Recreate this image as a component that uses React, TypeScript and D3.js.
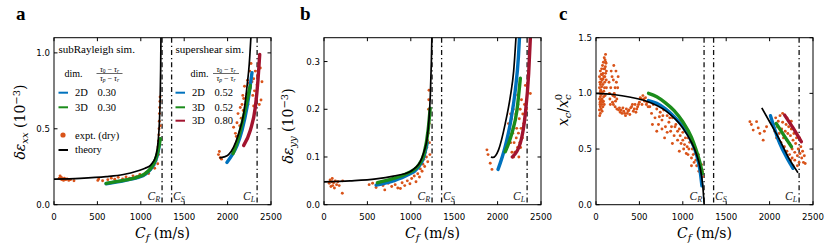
import React from 'react';
import * as d3 from 'd3';

type P = [number, number];

// axis ticks
const xTicks = [0, 500, 1000, 1500, 2000, 2500];
const yTicksA = [0, 0.5, 1.0];
const yTicksB = [0, 0.1, 0.2, 0.3];
const yTicksC = [0, 0.5, 1.0, 1.5];

// wave speeds (m/s)
const CR = 1245;
const CS = 1355;
const CL = 2340;

// ---- panel a: delta eps_xx ----
const theoryA: P[][] = [
  [[0, 0.169], [300, 0.174], [600, 0.185], [800, 0.199], [960, 0.222], [1050, 0.24], [1115, 0.262], [1170, 0.315], [1200, 0.42], [1215, 0.55], [1223, 0.69], [1229, 0.9], [1233, 1.15]],
  [[1907, 0.308], [1960, 0.315], [2011, 0.33], [2069, 0.38], [2127, 0.468], [2185, 0.6], [2223, 0.775], [2250, 0.93], [2273, 1.15]],
];
const blueA: P[][] = [
  [[600, 0.138], [700, 0.148], [800, 0.158], [900, 0.17], [960, 0.178], [1050, 0.2], [1115, 0.235], [1170, 0.29], [1200, 0.35], [1215, 0.4]],
  [[1992, 0.278], [2050, 0.326], [2108, 0.39], [2166, 0.49], [2223, 0.64], [2255, 0.76], [2281, 0.87]],
];
const greenA: P[][] = [
  [[600, 0.14], [700, 0.15], [800, 0.16], [900, 0.172], [960, 0.182], [1050, 0.205], [1115, 0.24], [1170, 0.3], [1200, 0.36], [1225, 0.435]],
  [[2062, 0.337], [2127, 0.446], [2192, 0.6], [2230, 0.7], [2262, 0.785]],
];
const redA: P[][] = [
  [[2185, 0.39], [2262, 0.49], [2319, 0.64], [2350, 0.82], [2362, 0.92], [2370, 0.99]],
];
const exptA: P[] = [
  [60, 0.175], [70, 0.19], [75, 0.17], [85, 0.18], [90, 0.165], [100, 0.17], [110, 0.16], [120, 0.175], [135, 0.165], [150, 0.17], [170, 0.16], [190, 0.165], [230, 0.158],
  [505, 0.16], [515, 0.17], [560, 0.158], [620, 0.165], [660, 0.175], [700, 0.168], [740, 0.18], [790, 0.17], [830, 0.182], [870, 0.175], [910, 0.19], [950, 0.185], [990, 0.2], [1030, 0.19], [1060, 0.21], [1090, 0.205], [1110, 0.23], [1130, 0.25], [1150, 0.26], [1160, 0.24], [1175, 0.29], [1185, 0.31], [1190, 0.35], [1198, 0.38], [1203, 0.42], [1208, 0.46], [1210, 0.5], [1213, 0.55], [1215, 0.6], [1218, 0.64], [1220, 0.68], [1222, 0.71], [1212, 0.4], [1195, 0.27], [1225, 0.52], [1205, 0.33],
  [1895, 0.33], [1905, 0.35], [1915, 0.31], [1930, 0.3], [2069, 0.51], [2090, 0.47], [2108, 0.54], [2120, 0.6], [2146, 0.64], [2156, 0.57], [2166, 0.66], [2175, 0.72], [2185, 0.7], [2195, 0.78], [2204, 0.64], [2215, 0.68], [2223, 0.73], [2235, 0.66], [2245, 0.8], [2262, 0.77], [2270, 0.93], [2281, 0.81], [2290, 0.72], [2300, 0.83], [2310, 0.75], [2319, 0.88], [2330, 0.7], [2339, 0.79], [2346, 0.85], [2358, 0.92], [2365, 0.66], [2377, 0.9], [2385, 0.69], [2396, 0.81], [2140, 0.52], [2100, 0.45], [2180, 0.62], [2230, 0.82], [2255, 0.88], [2300, 0.65],
];

// ---- panel b: delta eps_yy ----
const theoryB: P[][] = [
  [[0, 0.048], [300, 0.05], [600, 0.054], [800, 0.06], [990, 0.069], [1050, 0.077], [1108, 0.09], [1150, 0.11], [1185, 0.136], [1210, 0.18], [1225, 0.23], [1237, 0.3], [1245, 0.37]],
  [[1923, 0.1], [1946, 0.099], [2011, 0.115], [2088, 0.17], [2146, 0.226], [2185, 0.28], [2215, 0.36]],
];
const blueB: P[][] = [
  [[600, 0.041], [800, 0.05], [961, 0.062], [1080, 0.077], [1150, 0.1], [1190, 0.13]],
  [[2005, 0.074], [2088, 0.122], [2146, 0.17], [2204, 0.24], [2240, 0.31], [2255, 0.36]],
];
const greenB: P[][] = [
  [[615, 0.046], [800, 0.055], [961, 0.066], [1077, 0.08], [1154, 0.108], [1200, 0.157], [1223, 0.202]],
  [[2088, 0.111], [2165, 0.15], [2223, 0.198], [2262, 0.265]],
];
const redB: P[][] = [
  [[2170, 0.1], [2262, 0.129], [2319, 0.19], [2358, 0.275], [2380, 0.36]],
];
const exptB: P[] = [
  [60, 0.045], [70, 0.052], [80, 0.038], [90, 0.048], [95, 0.055], [100, 0.04], [110, 0.046], [120, 0.035], [130, 0.05], [145, 0.042], [160, 0.048], [175, 0.04], [211, 0.024], [215, 0.05],
  [520, 0.042], [560, 0.045], [600, 0.036], [640, 0.044], [680, 0.04], [700, 0.031], [740, 0.045], [780, 0.038], [820, 0.042], [850, 0.035], [880, 0.034], [900, 0.046], [930, 0.04], [960, 0.05], [990, 0.044], [1010, 0.055], [1040, 0.06], [1060, 0.048], [1080, 0.065], [1100, 0.058], [1110, 0.075], [1130, 0.07], [1140, 0.085], [1150, 0.095], [1160, 0.08], [1170, 0.11], [1180, 0.1], [1185, 0.12], [1190, 0.135], [1195, 0.09], [1200, 0.15], [1205, 0.2], [1207, 0.22], [1210, 0.24], [1212, 0.17], [1215, 0.13], [1220, 0.105],
  [1877, 0.115], [1915, 0.087], [1935, 0.074], [1890, 0.105],
  [2100, 0.12], [2120, 0.14], [2140, 0.16], [2150, 0.13], [2160, 0.18], [2165, 0.11], [2175, 0.15], [2180, 0.2], [2190, 0.13], [2195, 0.17], [2200, 0.11], [2210, 0.19], [2215, 0.14], [2220, 0.16], [2230, 0.12], [2235, 0.21], [2240, 0.15], [2250, 0.18], [2255, 0.13], [2260, 0.2], [2270, 0.16], [2275, 0.22], [2285, 0.14], [2290, 0.19], [2300, 0.17], [2310, 0.21], [2320, 0.25], [2330, 0.2], [2346, 0.254], [2377, 0.233], [2150, 0.19], [2185, 0.1], [2245, 0.1], [2205, 0.23], [2265, 0.12], [2125, 0.17],
];

// ---- panel c: x_c / x_c^0 ----
const theoryC: P[][] = [
  [[0, 1.0], [200, 0.99], [400, 0.965], [600, 0.925], [800, 0.845], [1000, 0.69], [1100, 0.56], [1150, 0.47], [1200, 0.33], [1230, 0.17], [1248, -0.02]],
  [[1910, 0.87], [2000, 0.745], [2117, 0.58], [2220, 0.42], [2327, 0.287]],
];
const blueC: P[][] = [
  [[605, 0.935], [700, 0.91], [800, 0.86], [900, 0.79], [1000, 0.7], [1100, 0.57], [1150, 0.47], [1200, 0.3], [1220, 0.17]],
  [[2010, 0.8], [2117, 0.55], [2200, 0.42], [2270, 0.327]],
];
const greenC: P[][] = [
  [[605, 1.0], [700, 0.97], [800, 0.915], [900, 0.845], [1000, 0.745], [1100, 0.605], [1150, 0.5], [1200, 0.37], [1225, 0.28]],
  [[2076, 0.73], [2150, 0.64], [2252, 0.52]],
];
const redC: P[][] = [
  [[2173, 0.805], [2270, 0.69], [2366, 0.566]],
];
const exptC: P[] = [
  [40, 0.85], [40, 0.95], [40, 1.05], [40, 1.15], [45, 0.9], [45, 1.0], [45, 1.1], [50, 0.82], [50, 0.88], [50, 0.97], [50, 1.08], [50, 1.2], [55, 0.93], [55, 1.03], [55, 1.13], [60, 0.86], [60, 0.99], [60, 1.17], [65, 0.9], [65, 1.06], [65, 1.22], [70, 0.84], [70, 0.95], [70, 1.12], [75, 1.0], [75, 1.25], [80, 0.88], [80, 1.08], [80, 1.18], [85, 0.93], [85, 1.28], [90, 1.02], [90, 1.15], [95, 0.9], [95, 1.32], [100, 1.1], [100, 1.22], [105, 0.98], [105, 1.3], [110, 1.35], [110, 1.18], [115, 1.27], [120, 1.2], [120, 1.05],
  [42, 0.8], [48, 0.92], [52, 1.02], [58, 1.1], [62, 0.94], [68, 1.01], [72, 1.17], [78, 0.92], [82, 1.13], [88, 0.97], [92, 1.22], [98, 1.05], [102, 1.15], [108, 1.24], [112, 1.28], [118, 1.12],
  [150, 1.1], [155, 1.0], [160, 0.95], [170, 1.05], [175, 1.2], [185, 1.15], [190, 0.92], [200, 1.12], [205, 1.25], [210, 1.0], [215, 0.97], [220, 1.05], [230, 1.2], [235, 1.1], [240, 0.95], [250, 1.05], [255, 1.15], [165, 0.9], [195, 0.98], [225, 0.93],
  [200, 0.9], [220, 0.88], [240, 0.86], [260, 0.85], [280, 0.83], [300, 0.82], [320, 0.84], [340, 0.8], [360, 0.82], [380, 0.85], [400, 0.87], [420, 0.9], [440, 0.86], [460, 0.83], [480, 0.88], [500, 0.92], [520, 0.95], [540, 0.98], [560, 0.93], [580, 0.9], [600, 0.88], [310, 0.87], [350, 0.86], [390, 0.81], [450, 0.9], [530, 0.9],
  [270, 0.87], [290, 0.85], [330, 0.82], [370, 0.84], [410, 0.88], [430, 0.84], [470, 0.86], [490, 0.9], [510, 0.96], [550, 0.95], [570, 0.96], [590, 0.92],
  [620, 0.88], [640, 0.82], [660, 0.9], [680, 0.78], [700, 0.86], [720, 0.72], [740, 0.83], [760, 0.76], [780, 0.85], [800, 0.7], [820, 0.8], [840, 0.74], [860, 0.66], [880, 0.78], [900, 0.62], [920, 0.72], [940, 0.58], [960, 0.68], [980, 0.55], [1000, 0.65], [1010, 0.5], [1030, 0.6], [1050, 0.52], [1060, 0.45], [1080, 0.56], [1100, 0.42], [1110, 0.5], [1130, 0.38], [1140, 0.46], [1160, 0.35], [1170, 0.42], [1185, 0.3], [1190, 0.38], [1200, 0.33], [1210, 0.27], [1215, 0.36], [1225, 0.3], [1230, 0.25],
  [700, 0.66], [760, 0.68], [820, 0.65], [880, 0.55], [940, 0.66], [1000, 0.58], [1060, 0.6], [1120, 0.53], [1180, 0.45], [790, 0.6], [650, 0.72], [870, 0.7], [960, 0.48], [1040, 0.46], [1100, 0.35],
  [730, 0.79], [770, 0.8], [850, 0.78], [910, 0.7], [970, 0.62], [1020, 0.54], [1070, 0.5], [1120, 0.45], [1150, 0.4], [1195, 0.34],
  [1773, 0.746], [1850, 0.746], [1811, 0.67], [1869, 0.69], [1926, 0.58], [1888, 0.64], [1965, 0.7], [1790, 0.72], [1940, 0.66],
  [2050, 0.72], [2060, 0.66], [2070, 0.78], [2080, 0.6], [2090, 0.7], [2100, 0.75], [2110, 0.64], [2120, 0.8], [2130, 0.56], [2140, 0.68], [2150, 0.74], [2160, 0.6], [2170, 0.52], [2180, 0.66], [2190, 0.72], [2200, 0.48], [2200, 0.58], [2210, 0.64], [2220, 0.7], [2230, 0.45], [2230, 0.55], [2240, 0.62], [2250, 0.68], [2260, 0.42], [2260, 0.5], [2270, 0.58], [2280, 0.64], [2290, 0.4], [2290, 0.47], [2300, 0.55], [2310, 0.6], [2320, 0.44], [2330, 0.5], [2340, 0.38], [2350, 0.46], [2360, 0.52], [2370, 0.42], [2380, 0.48], [2390, 0.38], [2400, 0.44], [2410, 0.37], [2250, 0.75], [2200, 0.78], [2150, 0.82], [2320, 0.35], [2270, 0.35], [2345, 0.6], [2240, 0.4],
];

const BLUE = '#0072BD';
const GREEN = '#1b8c1b';
const RED = '#A2142F';
const ORANGE = '#D95319';

const TOP = 37.7;
const BOTTOM = 204.7;
const W = 217;
const SERIF = "'Liberation Serif', 'Times New Roman', Times, serif";
const MATH = "'DejaVu Serif', 'Liberation Serif', serif";
const SANS = "'DejaVu Sans', Verdana, sans-serif";

interface PanelProps {
  id: string;
  x0: number;
  yMax: number;
  yTicks: number[];
  theory: P[][];
  blue: P[][];
  green: P[][];
  red: P[][];
  expt: P[];
}

const Panel = ({ id, x0, yMax, yTicks, theory, blue, green, red, expt }: PanelProps) => {
  const x = d3.scaleLinear().domain([0, 2500]).range([x0, x0 + W]);
  const y = d3.scaleLinear().domain([0, yMax]).range([BOTTOM, TOP]);
  const line = d3.line<P>().x(d => x(d[0])).y(d => y(d[1])).curve(d3.curveMonotoneX);
  const fmt = d3.format('.1f');

  const vline = (c: number) => (
    <line x1={x(c)} x2={x(c)} y1={TOP} y2={BOTTOM} stroke="#111" strokeWidth={1.3} strokeDasharray="5,3,1.3,3" />
  );

  const speedLabel = (c: number, sub: string, dx: number, anchor: string) => (
    <text x={x(c) + dx} y={200} textAnchor={anchor} fontFamily={SERIF} fontSize={11.5} fontStyle="italic" fill="#222">
      C<tspan fontSize={8} dy={2.2}>{sub}</tspan>
    </text>
  );

  return (
    <g>
      <defs>
        <clipPath id={`clip-${id}`}>
          <rect x={x0} y={TOP} width={W} height={BOTTOM - TOP} />
        </clipPath>
      </defs>
      {vline(CR)}
      {vline(CS)}
      {vline(CL)}
      {speedLabel(CR, 'R', -2, 'end')}
      {speedLabel(CS, 'S', 1.5, 'start')}
      {speedLabel(CL, 'L', -2, 'end')}
      <g clipPath={`url(#clip-${id})`}>
        {expt.map((d, i) => (
          <circle key={i} cx={x(d[0])} cy={y(d[1])} r={1.45} fill={ORANGE} />
        ))}
        {blue.map((s, i) => <path key={'b' + i} d={line(s) || ''} fill="none" stroke={BLUE} strokeWidth={3.4} strokeLinecap="round" />)}
        {green.map((s, i) => <path key={'g' + i} d={line(s) || ''} fill="none" stroke={GREEN} strokeWidth={3.4} strokeLinecap="round" />)}
        {red.map((s, i) => <path key={'r' + i} d={line(s) || ''} fill="none" stroke={RED} strokeWidth={3.4} strokeLinecap="round" />)}
        {theory.map((s, i) => <path key={'t' + i} d={line(s) || ''} fill="none" stroke="#000" strokeWidth={1.7} />)}
      </g>
      <rect x={x0} y={TOP} width={W} height={BOTTOM - TOP} fill="none" stroke="#000" strokeWidth={1} />
      {xTicks.map(t => (
        <g key={'x' + t}>
          <line x1={x(t)} x2={x(t)} y1={BOTTOM} y2={BOTTOM - 3.5} stroke="#000" />
          <line x1={x(t)} x2={x(t)} y1={TOP} y2={TOP + 3.5} stroke="#000" />
          <text x={x(t)} y={220} textAnchor="middle" fontFamily={SANS} fontSize={8.6} fill="#000">{t}</text>
        </g>
      ))}
      {yTicks.map(t => (
        <g key={'y' + t}>
          <line x1={x0} x2={x0 + 3.5} y1={y(t)} y2={y(t)} stroke="#000" />
          <line x1={x0 + W} x2={x0 + W - 3.5} y1={y(t)} y2={y(t)} stroke="#000" />
          <text x={x0 - 4} y={y(t) + 3.1} textAnchor="end" fontFamily={SANS} fontSize={8.6} fill="#000">{fmt(t)}</text>
        </g>
      ))}
      <text x={x0 + W / 2} y={238} textAnchor="middle" fontFamily={MATH} fontSize={14} fill="#000">
        <tspan fontStyle="italic">C</tspan>
        <tspan fontStyle="italic" fontSize={10} dy={3}>f</tspan>
        <tspan dy={-3}> (m/s)</tspan>
      </text>
    </g>
  );
};

const Frac = ({ cx, y }: { cx: number; y: number }) => (
  <g fontFamily={SERIF} fontSize={8} fontStyle="italic" fill="#000">
    <text x={cx} y={y - 2.5} textAnchor="middle">
      τ<tspan fontSize={5.5} dy={1.5} fontStyle="normal">0</tspan>
      <tspan dy={-1.5} fontStyle="normal"> − </tspan>τ<tspan fontSize={5.5} dy={1.5}>r</tspan>
    </text>
    <line x1={cx - 13} x2={cx + 13} y1={y - 0.5} y2={y - 0.5} stroke="#000" strokeWidth={0.6} />
    <text x={cx} y={y + 6.5} textAnchor="middle">
      τ<tspan fontSize={5.5} dy={1.5}>p</tspan>
      <tspan dy={-1.5} fontStyle="normal"> − </tspan>τ<tspan fontSize={5.5} dy={1.5}>r</tspan>
    </text>
  </g>
);

const LegendRow = ({ x, y, color, dim, val }: { x: number; y: number; color: string; dim: string; val: string }) => (
  <g>
    <line x1={x} x2={x + 9.5} y1={y} y2={y} stroke={color} strokeWidth={2} />
    <text x={x + 16.5} y={y + 3.3} fontFamily={SERIF} fontSize={10.5} fill="#000">{dim}</text>
    <text x={x + 39} y={y + 3.3} fontFamily={SERIF} fontSize={10.5} fill="#000">{val}</text>
  </g>
);

const App = () => {
  return (
    <svg width={830} height={249} style={{ position: 'absolute', left: 0, top: 0, background: '#fff' }}>
      <Panel id="a" x0={54} yMax={1.1} yTicks={yTicksA} theory={theoryA} blue={blueA} green={greenA} red={redA} expt={exptA} />
      <Panel id="b" x0={324} yMax={0.35} yTicks={yTicksB} theory={theoryB} blue={blueB} green={greenB} red={redB} expt={exptB} />
      <Panel id="c" x0={596} yMax={1.5} yTicks={yTicksC} theory={theoryC} blue={blueC} green={greenC} red={redC} expt={exptC} />

      {/* panel letters */}
      <text x={16} y={20} fontFamily={SERIF} fontWeight="bold" fontSize={19}>a</text>
      <text x={300} y={20} fontFamily={SERIF} fontWeight="bold" fontSize={19}>b</text>
      <text x={559} y={20} fontFamily={SERIF} fontWeight="bold" fontSize={19}>c</text>

      {/* y labels */}
      <text transform="translate(25,122) rotate(-90)" textAnchor="middle" fontFamily={MATH} fontSize={14}>
        <tspan fontStyle="italic">δε</tspan>
        <tspan fontStyle="italic" fontSize={10} dy={3}>xx</tspan>
        <tspan dy={-3}> (10</tspan>
        <tspan fontSize={10} dy={-5}>−3</tspan>
        <tspan dy={5}>)</tspan>
      </text>
      <text transform="translate(293,126) rotate(-90)" textAnchor="middle" fontFamily={MATH} fontSize={14}>
        <tspan fontStyle="italic">δε</tspan>
        <tspan fontStyle="italic" fontSize={10} dy={3}>yy</tspan>
        <tspan dy={-3}> (10</tspan>
        <tspan fontSize={10} dy={-5}>−3</tspan>
        <tspan dy={5}>)</tspan>
      </text>
      <text transform="translate(568,110) rotate(-90)" textAnchor="middle" fontFamily={MATH} fontSize={14} fontStyle="italic">
        <tspan>x</tspan>
        <tspan fontSize={10} dy={3}>c</tspan>
        <tspan dy={-3} fontStyle="normal">/</tspan>
        <tspan>x</tspan>
        <tspan fontSize={10} dy={3}>c</tspan>
        <tspan fontSize={10} fontStyle="normal" dx={-6} dy={-9}>0</tspan>
      </text>

      {/* legend, panel a */}
      <text x={58.5} y={53} fontFamily={SERIF} fontSize={11}>subRayleigh sim.</text>
      <text x={64.5} y={77} fontFamily={SERIF} fontSize={10}>dim.</text>
      <Frac cx={109.5} y={74} />
      <LegendRow x={58.5} y={92.7} color={BLUE} dim="2D" val="0.30" />
      <LegendRow x={58.5} y={107.3} color={GREEN} dim="3D" val="0.30" />
      <circle cx={63} cy={135} r={2.6} fill={ORANGE} />
      <text x={75} y={138.5} fontFamily={SERIF} fontSize={10.5}>expt. (dry)</text>
      <line x1={58.5} x2={68} y1={150} y2={150} stroke="#000" strokeWidth={2} />
      <text x={75} y={153.3} fontFamily={SERIF} fontSize={10.5}>theory</text>

      <text x={175.5} y={53} fontFamily={SERIF} fontSize={11}>supershear sim.</text>
      <text x={190.5} y={77} fontFamily={SERIF} fontSize={10}>dim.</text>
      <Frac cx={226} y={74} />
      <LegendRow x={175.5} y={92.7} color={BLUE} dim="2D" val="0.52" />
      <LegendRow x={175.5} y={107.3} color={GREEN} dim="3D" val="0.52" />
      <LegendRow x={175.5} y={120.7} color={RED} dim="3D" val="0.80" />
    </svg>
  );
};

export default App;
